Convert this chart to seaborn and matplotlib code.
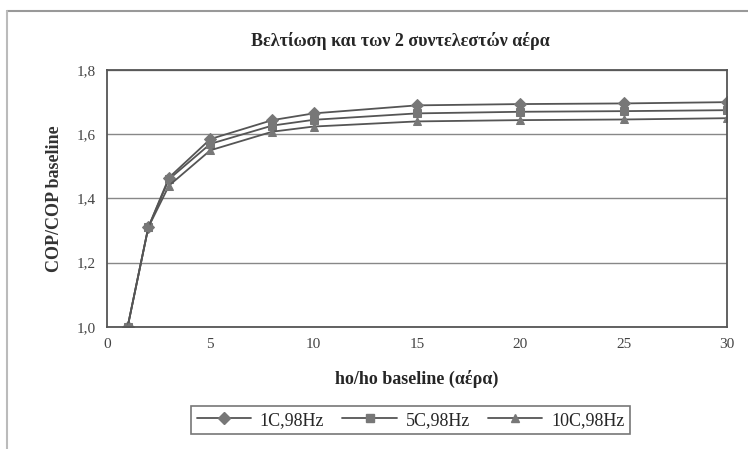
import matplotlib
matplotlib.use("Agg")
import matplotlib.pyplot as plt
import seaborn as sns
import pandas as pd
from matplotlib.lines import Line2D

x_vals = [1, 2, 3, 5, 8, 10, 15, 20, 25, 30]
s1 = [1.0, 1.31, 1.465, 1.585, 1.644, 1.665, 1.690, 1.694, 1.696, 1.700]
s2 = [1.0, 1.31, 1.46, 1.570, 1.627, 1.645, 1.665, 1.670, 1.672, 1.675]
s3 = [1.0, 1.31, 1.44, 1.550, 1.608, 1.624, 1.640, 1.644, 1.646, 1.650]
labels = ["1C,98Hz", "5C,98Hz", "10C,98Hz"]

rows = []
for lab, ys in zip(labels, [s1, s2, s3]):
    for xv, yv in zip(x_vals, ys):
        rows.append({"x": xv, "y": yv, "series": lab})
df = pd.DataFrame(rows)

sns.set_theme(style="white")
plt.rcParams["font.family"] = ["Liberation Serif", "DejaVu Serif"]

fig = plt.figure(figsize=(7.48, 4.49), dpi=100)
ax = fig.add_axes([0.143, 0.272, 0.829, 0.572])

sns.lineplot(data=df, x="x", y="y", hue="series", style="series",
             palette=["#555555"] * 3, markers=["D", "s", "^"], dashes=False,
             markersize=6, linewidth=1.3, markeredgecolor="#777777",
             ax=ax, legend=False)
for ln in ax.lines:
    ln.set_markerfacecolor("#777777")

ax.set_xlim(0, 30)
ax.set_ylim(1.0, 1.8)
ax.set_xticks([0, 5, 10, 15, 20, 25, 30])
ax.set_yticks([1.0, 1.2, 1.4, 1.6, 1.8])
ax.set_yticklabels(["1,0", "1,2", "1,4", "1,6", "1,8"])
ax.tick_params(axis="both", labelsize=11, colors="#444444", length=0, pad=8)
ax.yaxis.grid(True, color="#888888", linewidth=1)
ax.xaxis.grid(False)
for sp in ax.spines.values():
    sp.set_color("#555555")
    sp.set_linewidth(1.3)

ax.set_xlabel("ho/ho baseline (αέρα)", fontsize=13, fontweight="bold", labelpad=14)
ax.set_ylabel("COP/COP baseline", fontsize=13, fontweight="bold", labelpad=10, color="#333333")
fig.text(0.535, 0.909, "Βελτίωση και των 2 συντελεστών αέρα", ha="center", va="center",
         fontsize=13, fontweight="bold")

handles = [Line2D([0], [0], color="#555555", marker=m, markerfacecolor="#777777",
                  markeredgecolor="#777777", markersize=6, linewidth=1.3)
           for m in ["D", "s", "^"]]
leg = fig.legend(handles, labels, loc="center", bbox_to_anchor=(0.549, 0.064), ncol=3,
                 fontsize=13, frameon=True, fancybox=False, handlelength=3,
                 columnspacing=1.0, handletextpad=0.5, borderpad=0.3)
leg.get_frame().set_edgecolor("#555555")
leg.get_frame().set_linewidth(1.2)

fig.add_artist(Line2D([7 / 748, 1.0], [1 - 11 / 449, 1 - 11 / 449], transform=fig.transFigure,
                      color="#999999", linewidth=1.5))
fig.add_artist(Line2D([7 / 748, 7 / 748], [0.0, 1 - 11 / 449], transform=fig.transFigure,
                      color="#bbbbbb", linewidth=1.5))

fig.savefig("out.png", dpi=100)
